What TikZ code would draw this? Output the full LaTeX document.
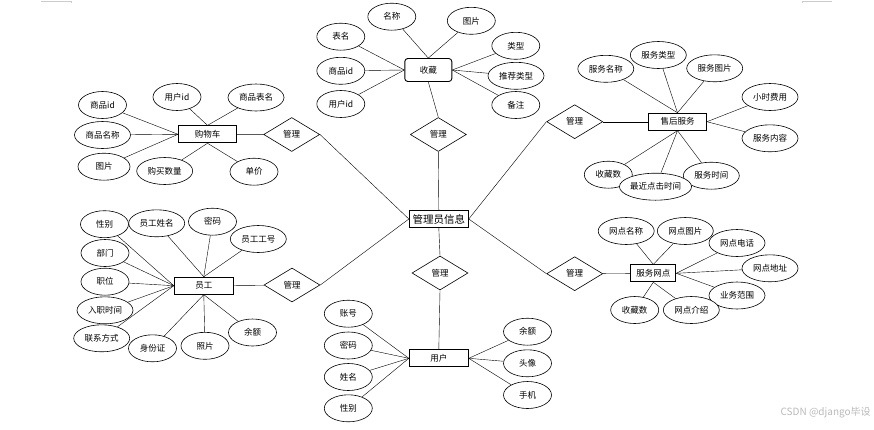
\documentclass[tikz,border=0pt]{standalone}
\usepackage{fontspec}
\setmainfont{Noto Sans CJK SC}
\usetikzlibrary{shapes.geometric,backgrounds}

\begin{document}
\begin{tikzpicture}[x=1pt,y=-1pt,line width=0.6pt,
  attr/.style={ellipse,draw,fill=white,minimum width=48pt,minimum height=27pt,inner sep=0pt,font=\fontsize{8.5}{10}\selectfont},
  wide/.style={attr,minimum width=56pt},
  ent/.style={rectangle,draw,fill=white,line width=0.9pt,minimum width=58pt,minimum height=17pt,inner sep=0pt,font=\fontsize{8.5}{10}\selectfont},
  rel/.style={diamond,draw,fill=white,minimum width=56pt,minimum height=34pt,inner sep=0pt,font=\fontsize{8.5}{10}\selectfont}]
\useasboundingbox (0,0) rectangle (874,429);
% page marks
\draw[gray!40,line width=0.5pt] (41,1) -- (71,1) -- (71,3);
\draw[gray!40,line width=0.5pt] (832,1) -- (802,1) -- (802,3);

% centre
\node[ent,minimum width=59pt,font=\fontsize{10.5}{12}\selectfont] (admin) at (438.8,219) {管理员信息};

% 购物车
\node[ent] (cart) at (207.5,134.3) {购物车};
\node[attr] (cPid) at (102.5,105) {商品id};
\node[attr] (cUid) at (177,97) {用户id};
\node[wide] (cTab) at (256,97.5) {商品表名};
\node[wide] (cName) at (102.5,135) {商品名称};
\node[attr,minimum width=52pt] (cPic) at (104,166.7) {图片};
\node[wide] (cNum) at (164.7,171) {购买数量};
\node[attr] (cPrice) at (254,171.7) {单价};
\node[rel] (cRel) at (291.7,134.5) {管理};

% 收藏
\node[ent,rounded corners=3pt,minimum width=47pt,minimum height=23pt] (fav) at (428.3,70) {收藏};
\node[attr] (fTab) at (340.8,36.7) {表名};
\node[attr] (fName) at (391.8,16.7) {名称};
\node[attr] (fPic) at (471.3,20.8) {图片};
\node[attr] (fType) at (515.8,45.8) {类型};
\node[attr] (fPid) at (340.8,70.8) {商品id};
\node[wide] (fRec) at (516,75.8) {推荐类型};
\node[attr] (fUid) at (340.8,104) {用户id};
\node[attr] (fNote) at (515.8,105) {备注};
\node[rel] (fRel) at (438.3,134.5) {管理};

% 售后服务
\node[ent] (after) at (677.5,121.7) {售后服务};
\node[wide] (aName) at (605.8,68.8) {服务名称};
\node[wide] (aType) at (658.3,55) {服务类型};
\node[wide] (aPic) at (714.7,68.3) {服务图片};
\node[wide] (aFee) at (770,97) {小时费用};
\node[wide] (aCont) at (770,138.3) {服务内容};
\node[attr] (aFav) at (608.3,174.7) {收藏数};
\node[wide] (aTime) at (711.3,175.7) {服务时间};
\node[attr,minimum width=66pt] (aLast) at (655.5,186.7) {最近点击时间};
\node[rel] (aRel) at (574.7,121.7) {管理};

% 员工
\node[ent,minimum width=59pt] (staff) at (203.8,285.7) {员工};
\node[attr] (sSex) at (104.5,224.2) {性别};
\node[wide] (sName) at (156.7,223.3) {员工姓名};
\node[attr] (sPwd) at (212.5,221.7) {密码};
\node[wide] (sNo) at (258.3,239) {员工工号};
\node[attr] (sDept) at (105,253) {部门};
\node[attr] (sPos) at (105,281.7) {职位};
\node[wide] (sDate) at (105,310.3) {入职时间};
\node[wide] (sTel) at (101.7,338.3) {联系方式};
\node[attr] (sId) at (152.5,348.3) {身份证};
\node[attr] (sPhoto) at (205,345.8) {照片};
\node[attr] (sBal) at (252.5,332.5) {余额};
\node[rel] (sRel) at (292,285) {管理};

% 用户
\node[ent,minimum width=59pt] (user) at (438.8,358.3) {用户};
\node[rel] (uRel) at (440,273) {管理};
\node[attr] (uAcc) at (348.3,313.7) {账号};
\node[attr] (uPwd) at (348.3,345.5) {密码};
\node[attr] (uName) at (348.3,377) {姓名};
\node[attr] (uSex) at (348.3,408.3) {性别};
\node[attr] (uBal) at (527.5,331.7) {余额};
\node[attr] (uHead) at (527.5,363.3) {头像};
\node[attr] (uTel) at (527.5,395) {手机};

% 服务网点
\node[ent,minimum width=45pt] (outlet) at (653.3,273.3) {服务网点};
\node[wide] (oName) at (626.2,231) {网点名称};
\node[wide] (oPic) at (685.3,231) {网点图片};
\node[wide] (oTel) at (737,243) {网点电话};
\node[wide] (oAddr) at (770,268.3) {网点地址};
\node[wide] (oScope) at (737,295.5) {业务范围};
\node[attr] (oFav) at (634.7,310) {收藏数};
\node[wide] (oIntro) at (691.3,310) {网点介绍};
\node[rel] (oRel) at (574.7,273.7) {管理};

\node[anchor=east,text=gray!55,font=\fontsize{10}{12}\selectfont,inner sep=0pt] (mark) at (871,413) {CSDN @django毕设};

\begin{scope}[on background layer]
\foreach \a in {cPid,cName,cPic} \draw (\a) -- (cart.west);
\foreach \a in {cUid,cTab} \draw (\a) -- (cart.north);
\foreach \a in {cNum,cPrice} \draw (\a) -- (cart.south);
\draw (cart) -- (cRel);

\foreach \a in {fTab,fPid,fUid} \draw (\a) -- (fav.west);
\foreach \a in {fName,fPic} \draw (\a) -- (fav.north);
\foreach \a in {fType,fRec,fNote} \draw (\a) -- (fav.east);
\draw (fav.south) -- (fRel.north);

\foreach \a in {aName,aType,aPic} \draw (\a) -- (after.north);
\foreach \a in {aFee,aCont} \draw (\a) -- (after.east);
\foreach \a in {aFav,aLast,aTime} \draw (\a) -- (after.south);
\draw (aRel) -- (after);

\foreach \a in {sSex,sDept,sPos,sDate,sTel} \draw (\a) -- (staff.west);
\foreach \a in {sName,sPwd,sNo} \draw (\a) -- (staff.north);
\foreach \a in {sId,sPhoto,sBal} \draw (\a) -- (staff.south);
\draw (staff) -- (sRel);

\foreach \a in {uAcc,uPwd,uName,uSex} \draw (\a) -- (user.west);
\foreach \a in {uBal,uHead,uTel} \draw (\a) -- (user.east);
\draw (uRel.south) -- (user.north);

\foreach \a in {oName,oPic} \draw (\a) -- (outlet.north);
\foreach \a in {oTel,oAddr,oScope} \draw (\a) -- (outlet.east);
\foreach \a in {oFav,oIntro} \draw (\a) -- (outlet.south);
\draw (oRel) -- (outlet);

% links to 管理员信息
\draw (cRel.east) -- (admin.west);
\draw (sRel.east) -- (admin.west);
\draw (admin.east) -- (aRel.west);
\draw (admin.east) -- (oRel.west);
\draw (fRel.south) -- (admin.north);
\draw (admin.south) -- (uRel.north);
\end{scope}
\end{tikzpicture}
\end{document}
